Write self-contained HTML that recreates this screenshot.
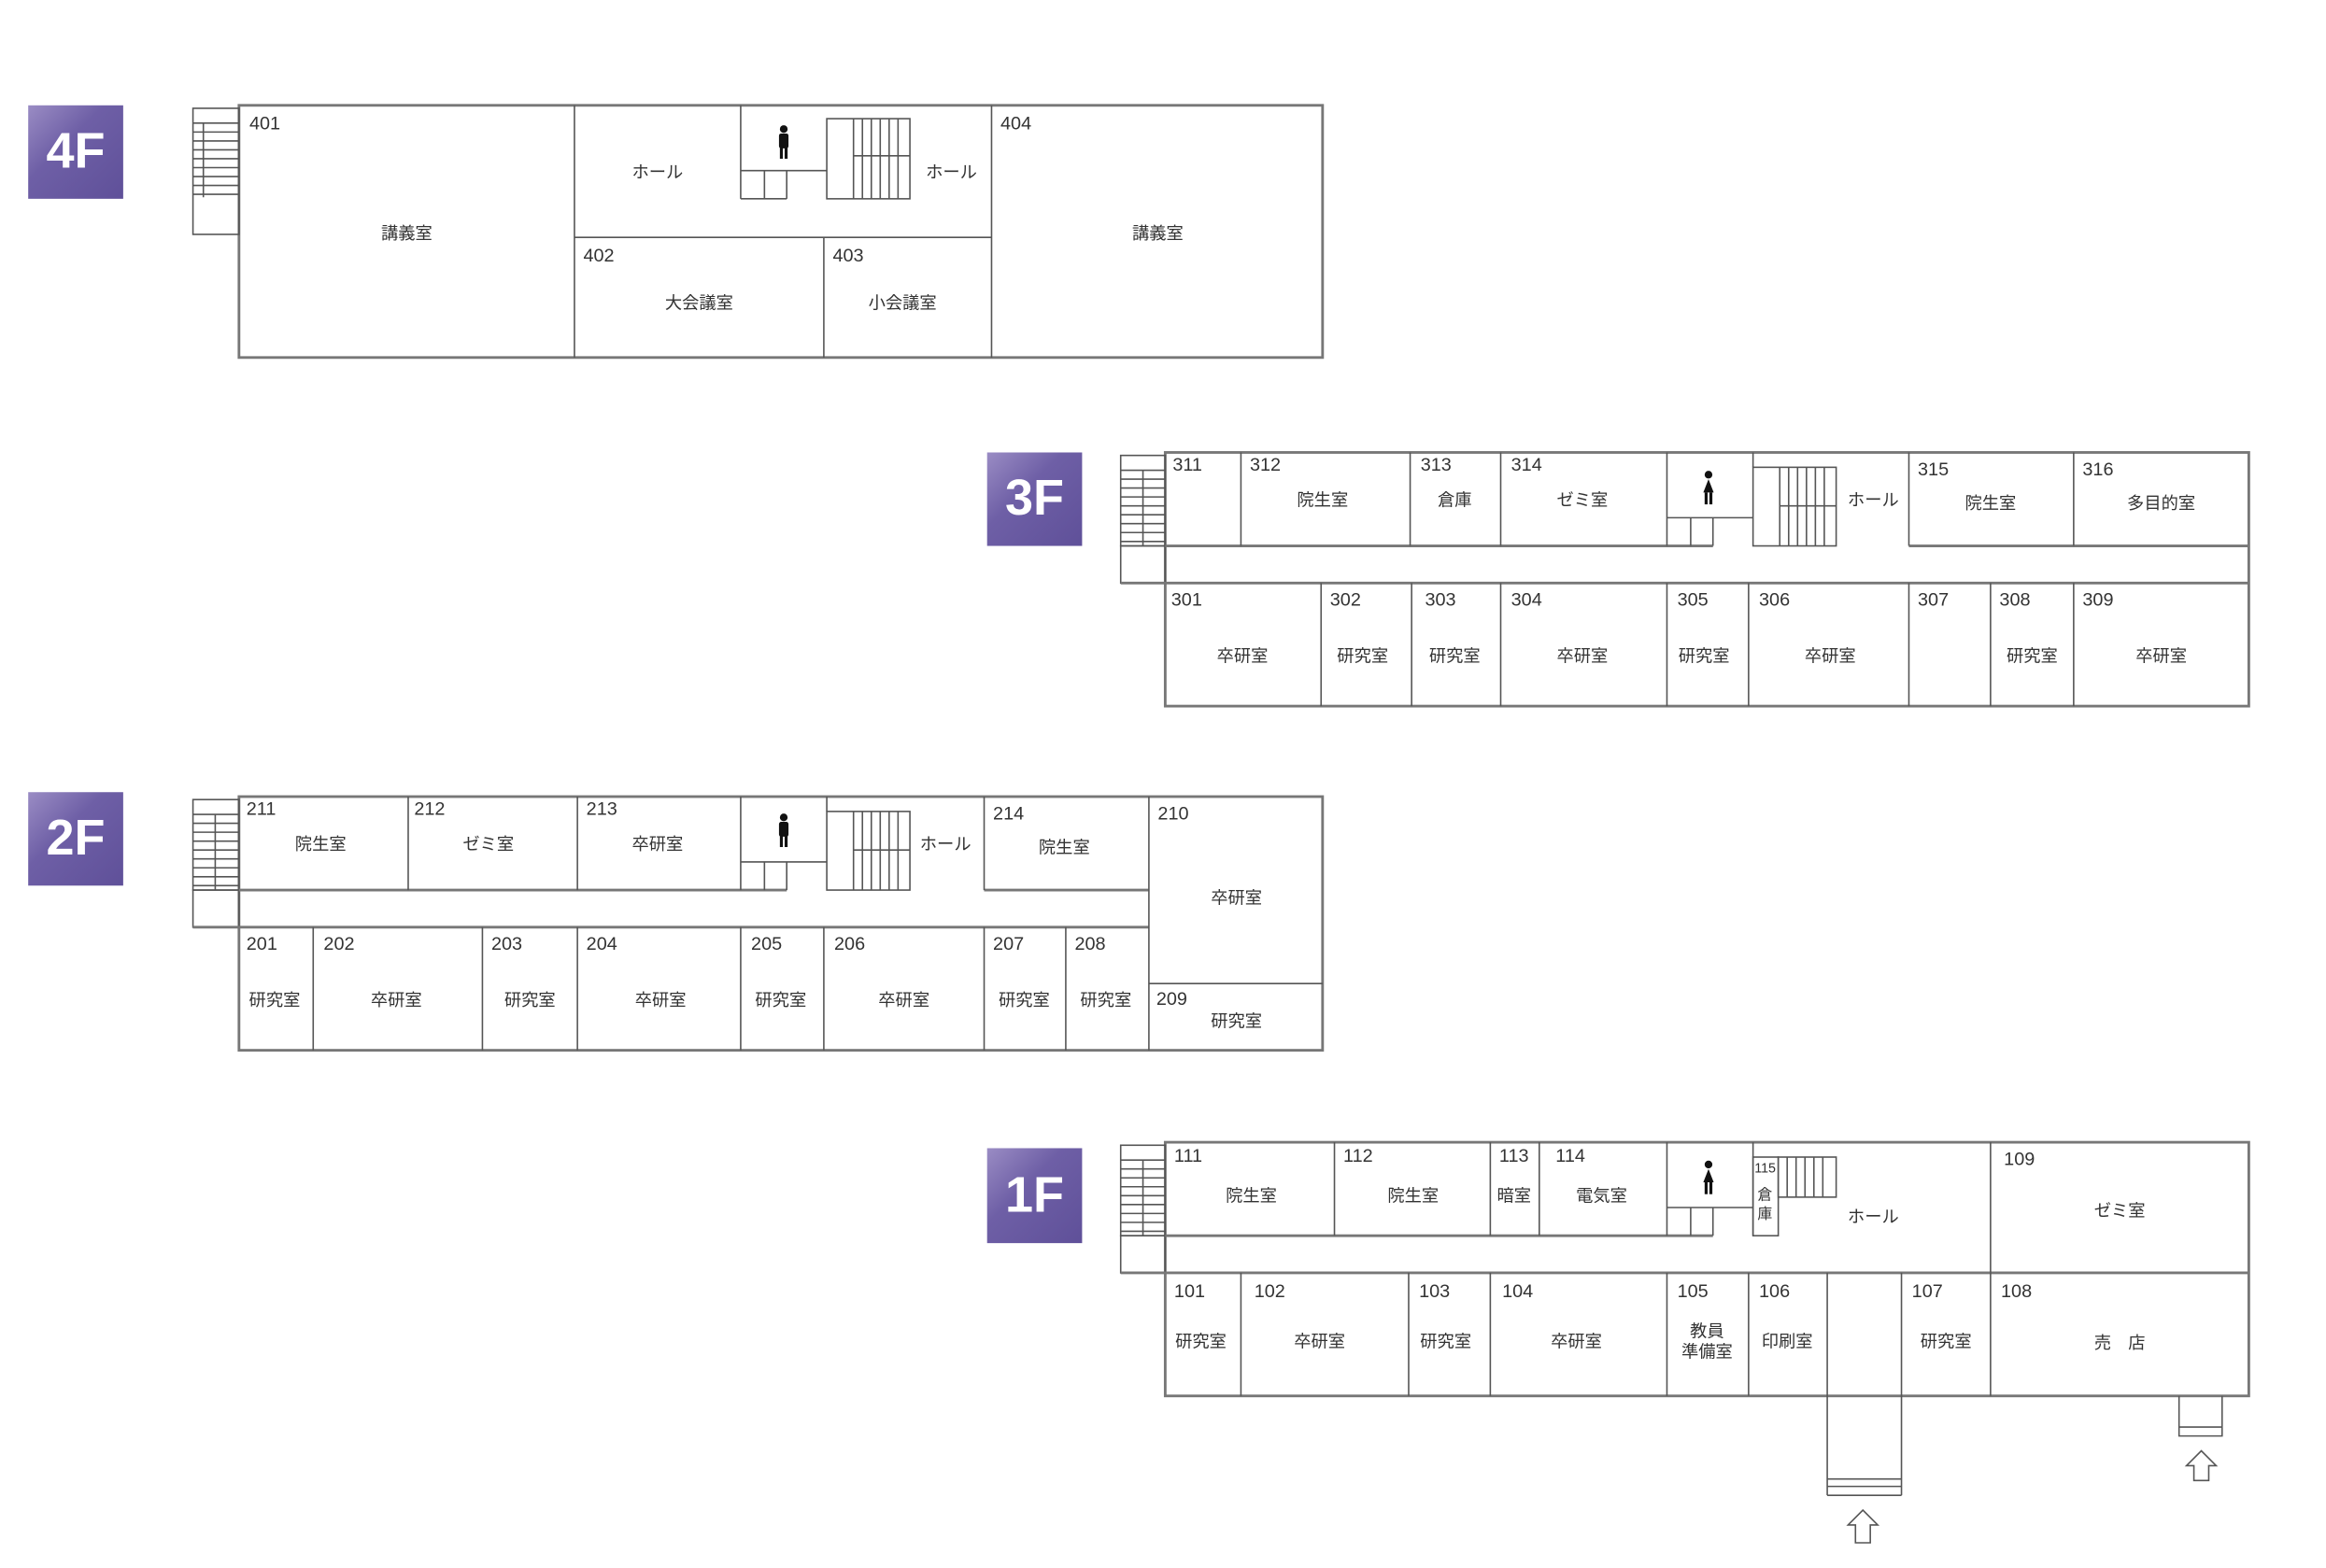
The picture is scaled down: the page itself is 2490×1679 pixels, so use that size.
<!DOCTYPE html>
<html><head><meta charset="utf-8"><style>
html,body{margin:0;padding:0;background:#fff;}
svg{display:block}
.w{stroke:#555;stroke-width:1;fill:none}
.o{stroke:#777;stroke-width:1.8;fill:none}
text{font-family:"Liberation Sans","Noto Sans CJK JP",sans-serif;fill:#333;dominant-baseline:middle}
.n{font-size:12.5px}
.l{font-size:11.5px;text-anchor:middle}
.b{font-size:34px;font-weight:bold;fill:#fff;text-anchor:middle}
</style></head><body>
<svg width="2490" height="1679" viewBox="0 0 1567 1057" preserveAspectRatio="none" xmlns="http://www.w3.org/2000/svg">
<defs><linearGradient id="g" x1="0" y1="0" x2="1" y2="1"><stop offset="0" stop-color="#9a8cc4"/><stop offset="0.4" stop-color="#6e5fa6"/><stop offset="1" stop-color="#5f5099"/></linearGradient>
<g id="man"><circle cx="0" cy="-13" r="2.6" fill="#111"/><rect x="-3.2" y="-10" width="6.4" height="10" rx="1.5" fill="#111"/><rect x="-2.6" y="-1" width="2" height="8" fill="#111"/><rect x="0.6" y="-1" width="2" height="8" fill="#111"/></g>
<g id="lady"><circle cx="0" cy="-13" r="2.6" fill="#111"/><path d="M0,-10 L-3.5,-1 L3.5,-1 Z" fill="#111"/><rect x="-2.6" y="-1" width="2" height="8" fill="#111"/><rect x="0.6" y="-1" width="2" height="8" fill="#111"/></g>
</defs>

<rect x="19" y="71" width="64" height="63" fill="url(#g)"/><text x="51" y="104" class="b">4F</text>
<rect x="665" y="305" width="64" height="63" fill="url(#g)"/><text x="697" y="338" class="b">3F</text>
<rect x="19" y="534" width="64" height="63" fill="url(#g)"/><text x="51" y="567" class="b">2F</text>
<rect x="665" y="774" width="64" height="64" fill="url(#g)"/><text x="697" y="808" class="b">1F</text>

<!-- ===== 4F ===== -->
<rect x="161" y="71" width="730" height="170" class="o"/>
<rect x="130" y="73" width="31" height="85" class="w"/>
<path class="w" d="M130 83H161M130 89H161M130 95H161M130 101H161M130 107H161M130 113H161M130 119H161M130 125H161M130 131H161M137 83V133"/>
<path class="w" d="M387 71V241M668 71V241M387 160H668M555 160V241M499 71V134M499 115H557M499 134H530M530 115V134M515 115V134"/>
<rect x="557" y="80" width="56" height="54" class="w"/>
<path class="w" d="M575 80V134M581 80V134M587 80V134M593 80V134M599 80V134M605 80V134M575 105H613"/>
<use href="#man" x="528" y="100"/>
<text x="168" y="84" class="n">401</text><text x="274" y="158" class="l">講義室</text>
<text x="443" y="117" class="l">ホール</text><text x="641" y="117" class="l">ホール</text>
<text x="674" y="84" class="n">404</text><text x="780" y="158" class="l">講義室</text>
<text x="393" y="173" class="n">402</text><text x="471" y="205" class="l">大会議室</text>
<text x="561" y="173" class="n">403</text><text x="608" y="205" class="l">小会議室</text>

<!-- ===== 3F ===== -->
<rect x="785" y="305" width="730" height="171" class="o"/>
<rect x="755" y="307" width="30" height="61" class="w"/><rect x="755" y="368" width="30" height="25" class="w"/>
<path class="w" d="M755 317H785M755 323H785M755 329H785M755 335H785M755 341H785M755 347H785M755 353H785M755 359H785M755 365H785M770 317V368"/>
<path class="o" d="M785 368H1154M1286 368H1515M755 393H1515"/>
<path class="w" d="M836 305V368M950 305V368M1011 305V368M1123 305V368M1181 305V315M1286 305V368M1397 305V368M1123 349H1181M1154 349V368M1139 349V368"/>
<rect x="1181" y="315" width="56" height="53" class="w"/>
<path class="w" d="M1199 315V368M1205 315V368M1211 315V368M1217 315V368M1223 315V368M1229 315V368M1199 341H1237"/>
<use href="#lady" x="1151" y="333"/>
<path class="w" d="M890 393V476M951 393V476M1011 393V476M1123 393V476M1178 393V476M1286 393V476M1341 393V476M1397 393V476"/>
<text x="790" y="314" class="n">311</text>
<text x="842" y="314" class="n">312</text><text x="891" y="338" class="l">院生室</text>
<text x="957" y="314" class="n">313</text><text x="980" y="338" class="l">倉庫</text>
<text x="1018" y="314" class="n">314</text><text x="1066" y="338" class="l">ゼミ室</text>
<text x="1262" y="338" class="l">ホール</text>
<text x="1292" y="317" class="n">315</text><text x="1341" y="340" class="l">院生室</text>
<text x="1403" y="317" class="n">316</text><text x="1456" y="340" class="l">多目的室</text>
<text x="789" y="405" class="n">301</text><text x="837" y="443" class="l">卒研室</text>
<text x="896" y="405" class="n">302</text><text x="918" y="443" class="l">研究室</text>
<text x="960" y="405" class="n">303</text><text x="980" y="443" class="l">研究室</text>
<text x="1018" y="405" class="n">304</text><text x="1066" y="443" class="l">卒研室</text>
<text x="1130" y="405" class="n">305</text><text x="1148" y="443" class="l">研究室</text>
<text x="1185" y="405" class="n">306</text><text x="1233" y="443" class="l">卒研室</text>
<text x="1292" y="405" class="n">307</text>
<text x="1347" y="405" class="n">308</text><text x="1369" y="443" class="l">研究室</text>
<text x="1403" y="405" class="n">309</text><text x="1456" y="443" class="l">卒研室</text>

<!-- ===== 2F ===== -->
<rect x="161" y="537" width="730" height="171" class="o"/>
<rect x="130" y="539" width="31" height="61" class="w"/><rect x="130" y="600" width="31" height="25" class="w"/>
<path class="w" d="M130 549H161M130 555H161M130 561H161M130 567H161M130 573H161M130 579H161M130 585H161M130 591H161M130 597H161M145 549V600"/>
<path class="o" d="M161 600H530M663 600H774M130 625H774"/>
<path class="w" d="M275 537V600M389 537V600M499 537V600M557 537V547M663 537V600M774 537V708M774 663H891M499 581H557M530 581V600M515 581V600"/>
<rect x="557" y="547" width="56" height="53" class="w"/>
<path class="w" d="M575 547V600M581 547V600M587 547V600M593 547V600M599 547V600M605 547V600M575 573H613"/>
<use href="#man" x="528" y="564"/>
<path class="w" d="M211 625V708M325 625V708M389 625V708M499 625V708M555 625V708M663 625V708M718 625V708"/>
<text x="166" y="546" class="n">211</text><text x="216" y="570" class="l">院生室</text>
<text x="279" y="546" class="n">212</text><text x="329" y="570" class="l">ゼミ室</text>
<text x="395" y="546" class="n">213</text><text x="443" y="570" class="l">卒研室</text>
<text x="637" y="570" class="l">ホール</text>
<text x="669" y="549" class="n">214</text><text x="717" y="572" class="l">院生室</text>
<text x="780" y="549" class="n">210</text><text x="833" y="606" class="l">卒研室</text>
<text x="779" y="674" class="n">209</text><text x="833" y="689" class="l">研究室</text>
<text x="166" y="637" class="n">201</text><text x="185" y="675" class="l">研究室</text>
<text x="218" y="637" class="n">202</text><text x="267" y="675" class="l">卒研室</text>
<text x="331" y="637" class="n">203</text><text x="357" y="675" class="l">研究室</text>
<text x="395" y="637" class="n">204</text><text x="445" y="675" class="l">卒研室</text>
<text x="506" y="637" class="n">205</text><text x="526" y="675" class="l">研究室</text>
<text x="562" y="637" class="n">206</text><text x="609" y="675" class="l">卒研室</text>
<text x="669" y="637" class="n">207</text><text x="690" y="675" class="l">研究室</text>
<text x="724" y="637" class="n">208</text><text x="745" y="675" class="l">研究室</text>

<!-- ===== 1F ===== -->
<rect x="785" y="770" width="730" height="171" class="o"/>
<rect x="755" y="772" width="30" height="61" class="w"/><rect x="755" y="833" width="30" height="25" class="w"/>
<path class="w" d="M755 782H785M755 788H785M755 794H785M755 800H785M755 806H785M755 812H785M755 818H785M755 824H785M755 830H785M770 782V833"/>
<path class="o" d="M785 833H1154M755 858H1515"/>
<path class="w" d="M899 770V833M1004 770V833M1037 770V833M1123 770V833M1181 770V833M1341 770V858M1123 814H1181M1154 814V833M1139 814V833"/>
<rect x="1181" y="780" width="17" height="53" class="w"/>
<rect x="1198" y="780" width="39" height="27" class="w"/>
<path class="w" d="M1204 780V807M1210 780V807M1216 780V807M1222 780V807M1228 780V807"/>
<use href="#lady" x="1151" y="798"/>
<path class="w" d="M836 858V941M949 858V941M1004 858V941M1123 858V941M1178 858V941M1231 858V1008M1281 858V1008M1341 858V941"/>
<path class="w" d="M1231 997H1281M1231 1002H1281M1231 1008H1281"/>
<path class="w" d="M1468 941V968H1497V941M1468 962H1497"/>
<path class="w" d="M1250 1040V1028H1245L1255 1018L1265 1028H1260V1040Z"/>
<path class="w" d="M1478 998V988H1473L1483 978L1493 988H1488V998Z"/>
<text x="791" y="780" class="n">111</text><text x="843" y="807" class="l">院生室</text>
<text x="905" y="780" class="n">112</text><text x="952" y="807" class="l">院生室</text>
<text x="1010" y="780" class="n">113</text><text x="1020" y="807" class="l">暗室</text>
<text x="1048" y="780" class="n">114</text><text x="1079" y="807" class="l">電気室</text>
<text x="1182" y="788" style="font-size:9px">115</text>
<text x="1189" y="806" class="l" style="font-size:10px">倉</text><text x="1189" y="819" class="l" style="font-size:10px">庫</text>
<text x="1262" y="821" class="l">ホール</text>
<text x="1350" y="782" class="n">109</text><text x="1428" y="817" class="l">ゼミ室</text>
<text x="791" y="871" class="n">101</text><text x="809" y="905" class="l">研究室</text>
<text x="845" y="871" class="n">102</text><text x="889" y="905" class="l">卒研室</text>
<text x="956" y="871" class="n">103</text><text x="974" y="905" class="l">研究室</text>
<text x="1012" y="871" class="n">104</text><text x="1062" y="905" class="l">卒研室</text>
<text x="1130" y="871" class="n">105</text><text x="1150" y="898" class="l">教員</text><text x="1150" y="912" class="l">準備室</text>
<text x="1185" y="871" class="n">106</text><text x="1204" y="905" class="l">印刷室</text>
<text x="1288" y="871" class="n">107</text><text x="1311" y="905" class="l">研究室</text>
<text x="1348" y="871" class="n">108</text><text x="1428" y="906" class="l">売　店</text>
</svg>
</body></html>
